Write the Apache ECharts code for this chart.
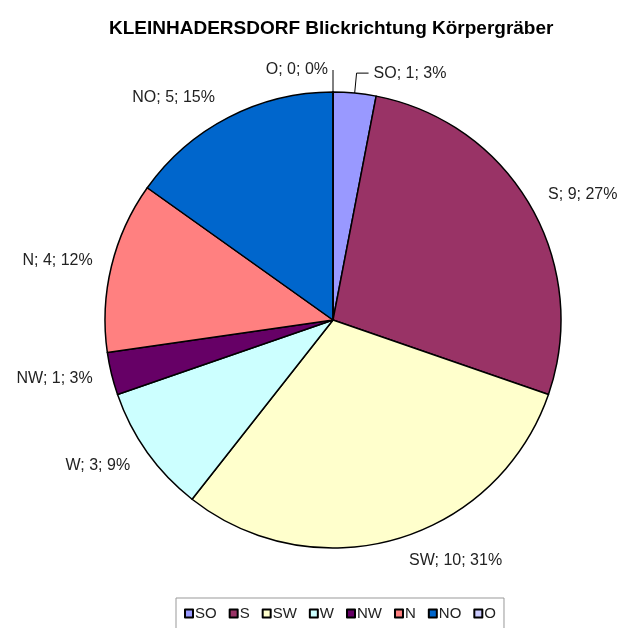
<!DOCTYPE html>
<html>
<head>
<meta charset="utf-8">
<script src="https://cdn.jsdelivr.net/npm/echarts@6/dist/echarts.min.js"></script>
<style>
	html, body { margin: 0; padding: 0; background: #fff; }
	#main { width: 618px; height: 628px; }
</style>
</head>
<body>
<div id="main"></div>
<script>
// Blickrichtung, Anzahl und Prozent wie im Original
var directions = ['SO', 'S', 'SW', 'W', 'NW', 'N', 'NO', 'O'];
var counts = [1, 9, 10, 3, 1, 4, 5, 0];
var percents = ['3%', '27%', '31%', '9%', '3%', '12%', '15%', '0%'];
var colors = ['#9999FF', '#993366', '#FFFFCC', '#CCFFFF', '#660066', '#FF8080', '#0066CC', '#CCCCFF'];

var chartDom = document.getElementById('main');
var myChart = echarts.init(chartDom);
var option;

var pieCenter = [333, 320];
var pieRadius = 228;

var pieData = directions.map(function (name, i) {
	var item = {
		name: name,
		value: counts[i],
		itemStyle: { color: colors[i] },
		labelLine: { show: false }
	};
	// nur SO und O haben eine Führungslinie
	if (name === 'SO') {
		item.labelLine = { show: true, length: 20, length2: 12 };
	}
	if (name === 'O') {
		item.labelLine = { show: true, length: 22, length2: 0 };
	}
	return item;
});

option = {
	backgroundColor: '#fff',
	textStyle: { fontFamily: 'Liberation Sans, Arial, sans-serif' },
	title: {
		text: 'KLEINHADERSDORF Blickrichtung Körpergräber',
		left: 104,
		top: 14,
		textStyle: {
			fontSize: 19,
			fontWeight: 'bold',
			color: '#000',
			fontFamily: 'Liberation Sans, Arial, sans-serif'
		}
	},
	legend: {
		data: directions,
		top: 598,
		left: 176,
		orient: 'horizontal',
		icon: 'rect',
		itemWidth: 8,
		itemHeight: 8,
		itemGap: 12,
		padding: [8, 8, 20, 8],
		borderColor: '#999',
		borderWidth: 1,
		selectedMode: false,
		textStyle: { fontSize: 15, color: '#222', padding: [0, 0, 0, -3] }
	},
	series: [
		{
			type: 'pie',
			center: pieCenter,
			radius: pieRadius,
			startAngle: 90,
			clockwise: true,
			animation: false,
			stillShowZeroSum: true,
			data: pieData,
			itemStyle: {
				borderColor: '#000',
				borderWidth: 1.5
			},
			label: {
				show: true,
				position: 'outside',
				color: '#222',
				fontSize: 16,
				overflow: 'none',
				formatter: function (p) {
					return p.name + '; ' + p.value + '; ' + percents[p.dataIndex];
				}
			},
			labelLine: {
				length: 10,
				length2: 4,
				lineStyle: { color: '#000', width: 1 }
			},
			// Beschriftungen ohne Linie etwas nach außen (oben/unten) schieben, wie in Excel
			labelLayout: function (params) {
				var name = directions[params.dataIndex];
				if (name === 'SO' || name === 'O') {
					return {};
				}
				var r = params.labelRect;
				var mid = r.y + r.height / 2;
				return { dy: 12 * (mid - pieCenter[1]) / pieRadius };
			},
			emphasis: { disabled: true }
		}
	]
};

option && myChart.setOption(option);
</script>
</body>
</html>
